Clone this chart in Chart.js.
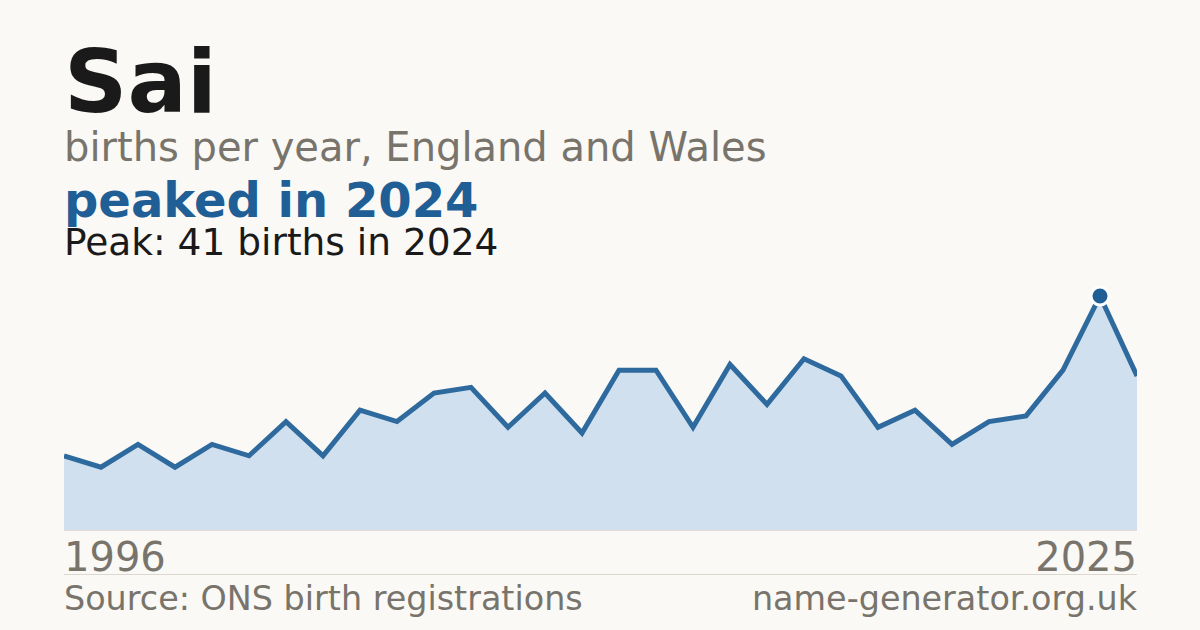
<!DOCTYPE html>
<html>
<head>
<meta charset="utf-8">
<script src="https://cdn.jsdelivr.net/npm/chart.js@4/dist/chart.umd.min.js"></script>
<style>
  body { margin: 0; width: 1200px; height: 630px; background: #faf9f5; font-family: "DejaVu Sans", sans-serif; position: relative; overflow: hidden; }
  .t { position: absolute; left: 64px; white-space: nowrap; }
  .name { top: 38px; font-size: 88px; font-weight: bold; color: #1a1a1a; line-height: 1; }
  .sub { top: 123px; font-size: 40px; color: #78746c; line-height: 1.2; }
  .headline { top: 172px; font-size: 48px; font-weight: bold; color: #1f5f96; line-height: 1.2; }
  .peak { top: 220px; font-size: 37.5px; color: #1a1a1a; line-height: 1.2; }
  .chart-box { position: absolute; left: 64px; top: 280px; width: 1073px; height: 250px; }
  .baseline { position: absolute; left: 64px; top: 530px; width: 1073px; height: 1px; background: #e2ddd4; }
  .year { position: absolute; top: 533px; font-size: 40px; color: #78746c; line-height: 1.2; }
  .rule { position: absolute; left: 64px; top: 574px; width: 1073px; height: 1px; background: #dcd8d0; }
  .foot { position: absolute; top: 579px; font-size: 33.4px; color: #78746c; line-height: 1.2; white-space: nowrap; }
</style>
</head>
<body>
<div class="t name">Sai</div>
<div class="t sub">births per year, England and Wales</div>
<div class="t headline">peaked in 2024</div>
<div class="t peak">Peak: 41 births in 2024</div>
<div class="chart-box"><canvas id="births"></canvas></div>
<div class="baseline"></div>
<div class="year first-year" style="left:64px"></div>
<div class="year last-year" style="right:63px"></div>
<div class="rule"></div>
<div class="foot" style="left:64px">Source: ONS birth registrations</div>
<div class="foot" style="right:63px">name-generator.org.uk</div>

<script>
const years = [1996, 1997, 1998, 1999, 2000, 2001, 2002, 2003, 2004, 2005,
               2006, 2007, 2008, 2009, 2010, 2011, 2012, 2013, 2014, 2015,
               2016, 2017, 2018, 2019, 2020, 2021, 2022, 2023, 2024, 2025];
const births = [13, 11, 15, 11, 15, 13, 19, 13, 21, 19,
                24, 25, 18, 24, 17, 28, 28, 18, 29, 22,
                30, 27, 18, 21, 15, 19, 20, 28, 41, 27];
const peakYear = 2024;

document.querySelector('.first-year').textContent = years[0];
document.querySelector('.last-year').textContent = years[years.length - 1];

// only the peak year gets a dot
const pointSizes = years.map(y => y === peakYear ? 9 : 0);

const ctx = document.getElementById('births');
new Chart(ctx, {
    type: 'line',
    data: {
        labels: years,
        datasets: [{
            data: births,
            borderColor: '#2e6a9e',
            borderWidth: 5,
            backgroundColor: '#d0e0ef',
            fill: 'origin',
            tension: 0,
            pointRadius: pointSizes,
            pointBackgroundColor: '#1f5f96',
            pointBorderColor: '#ffffff',
            pointBorderWidth: 3,
            clip: { left: 0, top: false, right: 0, bottom: 0 }
        }]
    },
    options: {
        responsive: true,
        maintainAspectRatio: false,
        animation: false,
        layout: { padding: { top: 16, left: 0, right: 0, bottom: 0 } },
        plugins: { legend: { display: false }, tooltip: { enabled: false } },
        scales: {
            x: { display: false, offset: false },
            y: { display: false, min: 0, max: 41 }
        }
    }
});
</script>
</body>
</html>
